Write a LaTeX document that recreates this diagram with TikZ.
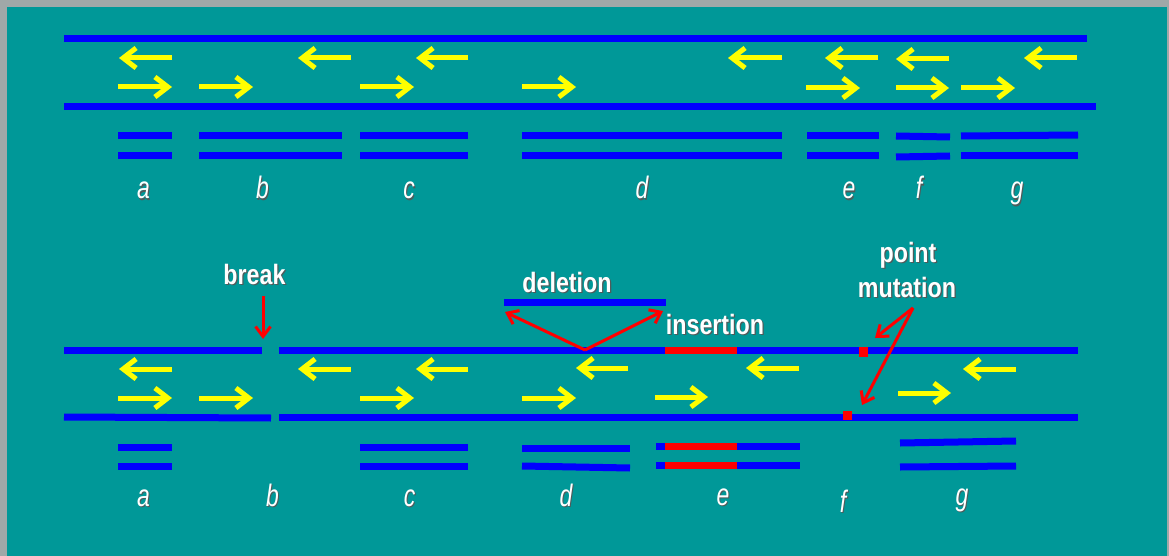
\documentclass[tikz,border=0pt]{standalone}
\usepackage{fontspec}
\setmainfont{Liberation Sans}
\usepackage{graphicx}
\usetikzlibrary{arrows.meta}
\definecolor{tealbg}{RGB}{0,152,152}
\definecolor{greyframe}{RGB}{160,168,168}
\definecolor{dnablue}{RGB}{0,0,255}
\definecolor{primeryellow}{RGB}{255,255,0}
\definecolor{mutred}{RGB}{255,0,0}
\definecolor{shade}{RGB}{80,90,90}
\newcommand{\shadowtext}[1]{\makebox[0pt][l]{\hspace{1.5pt}\raisebox{-1.5pt}{\color{shade}#1}}#1}
\newcommand{\bandname}[1]{\scalebox{0.74}[1]{\fontsize{31}{33}\selectfont\itshape\shadowtext{#1}}}
\newcommand{\callout}[1]{\scalebox{0.83}[1]{\fontsize{28}{30}\selectfont\bfseries\shadowtext{#1}}}
\tikzset{
	strand/.style={draw=dnablue, line width=7pt},
	primer/.style={draw=primeryellow, line width=5pt, -{Straight Barb[length=13pt,width=20pt]}},
	cut/.style={draw=mutred, line width=3pt, -{Straight Barb[length=10pt,width=15pt]}},
	lbl/.style={text=white, anchor=base, inner sep=0pt}
}

\begin{document}
\begin{tikzpicture}[x=1pt, y=-1pt]
			%%%%% START %%%%%
			\useasboundingbox (0,0) rectangle (1169,556);
			\fill[greyframe] (0,0) rectangle (1169,556);
			\fill[tealbg] (7,7) rectangle (1167,556);
			
			%% original template
			\draw[strand] (64,39) -- (1087,39);
			\draw[strand] (64,107) -- (1096,107);
			
			\draw[primer] (172,58) -- (119,58);
			\draw[primer] (351,58) -- (298,58);
			\draw[primer] (468,58) -- (416,58);
			\draw[primer] (782,58) -- (728,58);
			\draw[primer] (878,58) -- (825,58);
			\draw[primer] (949,59) -- (896,59);
			\draw[primer] (1077,58) -- (1024,58);
			
			\draw[primer] (118,87) -- (172,87);
			\draw[primer] (199,87) -- (253,87);
			\draw[primer] (360,87) -- (414,87);
			\draw[primer] (522,87) -- (576,87);
			\draw[primer] (806,88) -- (860,88);
			\draw[primer] (896,88) -- (949,88);
			\draw[primer] (961,88) -- (1015,88);
			
			\draw[strand] (118,136) -- (172,136);
			\draw[strand] (118,156) -- (172,156);
			\draw[strand] (199,136) -- (342,136);
			\draw[strand] (199,156) -- (342,156);
			\draw[strand] (360,136) -- (468,136);
			\draw[strand] (360,156) -- (468,156);
			\draw[strand] (522,136) -- (782,136);
			\draw[strand] (522,156) -- (782,156);
			\draw[strand] (807,136) -- (879,136);
			\draw[strand] (807,156) -- (879,156);
			\draw[strand] (896,136) -- (950,137);
			\draw[strand] (896,157) -- (950,156);
			\draw[strand] (961,136) -- (1078,135);
			\draw[strand] (961,156) -- (1078,156);
			
			\node[lbl] (ta) at (143.5,199) {\bandname{a}};
			\node[lbl] (tb) at (262.5,199) {\bandname{b}};
			\node[lbl] (tc) at (409,199) {\bandname{c}};
			\node[lbl] (td) at (642,199) {\bandname{d}};
			\node[lbl] (te) at (849,199) {\bandname{e}};
			\node[lbl] (tf) at (919,199) {\bandname{f}};
			\node[lbl] (tg) at (1017,199) {\bandname{g}};
			
			%% damaged template
			\node[lbl] (brk) at (254.5,284) {\callout{break}};
			\node[lbl] (del) at (567,292) {\callout{deletion}};
			\node[lbl] (ins) at (715,334) {\callout{insertion}};
			\node[lbl] (pnt) at (908,262) {\callout{point}};
			\node[lbl] (mtn) at (907,297) {\callout{mutation}};
			
			\draw[strand] (64,350) -- (262,350);
			\draw[strand] (279,350) -- (1078,350);
			\draw[strand] (64,417) -- (271,418);
			\draw[strand] (279,417) -- (1078,417);
			
			\draw[strand] (504,302) -- (666,302);
			\draw[strand, draw=mutred] (665,350) -- (737,350);
			\fill[mutred] (859,347) rectangle (868,357);
			\fill[mutred] (843,411) rectangle (852,420);
			
			\coordinate (brktop) at (263,296);
			\coordinate (brkgap) at (263,339);
			\draw[cut] (brktop) -- (brkgap);
			
			\coordinate (delvee) at (585,350);
			\coordinate (delleft) at (505,312);
			\coordinate (delright) at (663,311);
			\draw[cut] (delvee) -- (delleft);
			\draw[cut] (delvee) -- (delright);
			
			\coordinate (mtnfoot) at (913,308);
			\coordinate (mtnup) at (875,338);
			\coordinate (mtndown) at (862,405);
			\draw[cut] (mtnfoot) -- (mtnup);
			\draw[cut] (mtnfoot) -- (mtndown);
			
			\draw[primer] (172,369) -- (119,369);
			\draw[primer] (351,369) -- (298,369);
			\draw[primer] (468,369) -- (416,369);
			\draw[primer] (628,368) -- (576,368);
			\draw[primer] (799,368) -- (746,368);
			\draw[primer] (1016,369) -- (963,369);
			
			\draw[primer] (118,398) -- (172,398);
			\draw[primer] (199,398) -- (253,398);
			\draw[primer] (360,398) -- (414,398);
			\draw[primer] (522,398) -- (576,398);
			\draw[primer] (655,397) -- (708,397);
			\draw[primer] (898,393) -- (951,393);
			
			\draw[strand] (118,447) -- (172,447);
			\draw[strand] (118,466) -- (172,466);
			\draw[strand] (360,447) -- (468,447);
			\draw[strand] (360,466) -- (468,466);
			\draw[strand] (522,448) -- (630,448);
			\draw[strand] (522,466) -- (630,468);
			\draw[strand] (656,446) -- (800,446);
			\draw[strand] (656,465) -- (800,465);
			\draw[strand, draw=mutred] (665,446) -- (737,446);
			\draw[strand, draw=mutred] (665,465) -- (737,465);
			\draw[strand] (900,443) -- (1016,441);
			\draw[strand] (900,467) -- (1016,466);
			
			\node[lbl] (ba) at (143.5,506) {\bandname{a}};
			\node[lbl] (bb) at (272.5,506) {\bandname{b}};
			\node[lbl] (bc) at (409.5,506) {\bandname{c}};
			\node[lbl] (bd) at (566,506) {\bandname{d}};
			\node[lbl] (be) at (723,505) {\bandname{e}};
			\node[lbl] (bf) at (843,512) {\bandname{f}};
			\node[lbl] (bg) at (962,505) {\bandname{g}};
			%%%%% END %%%%%
\end{tikzpicture}
\end{document}
